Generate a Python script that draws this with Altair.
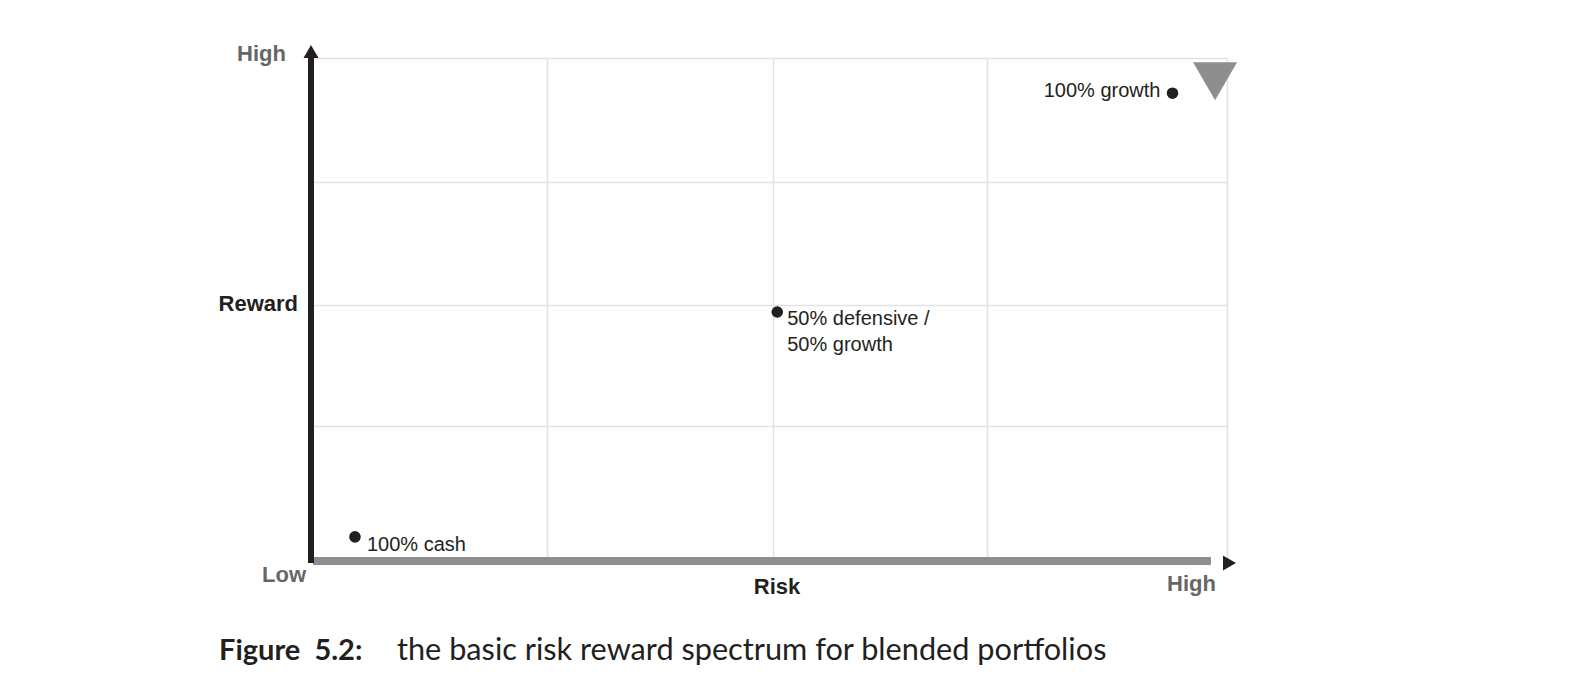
import altair as alt
import pandas as pd

# ---- data -------------------------------------------------------------
point_names = ["100% cash", "50% defensive / 50% growth", "100% growth"]
risk_values = [4.8, 50.9, 94.05]
reward_values = [4.8, 49.5, 93.0]

x_grid = [25.8, 50.4, 73.8, 100]
y_grid = [26.8, 50.9, 75.3, 100]

# decorative axis geometry (data units)
y_axis_x, y_axis_y0, y_axis_y1 = [0.0], [-0.4], [100.0]
x_axis_x0, x_axis_x1, x_axis_y = [0.22], [98.25], [0.0]
up_arrow_x, up_arrow_y = [0.0], [101.3]
right_arrow_x, right_arrow_y = [100.27], [-0.4]
marker_x, marker_y = [98.7], [95.4]

BLACK = "#231f20"
GREY = "#8e8e91"
LABEL_GREY = "#666666"

pts = pd.DataFrame({"risk": risk_values, "reward": reward_values, "name": point_names})

xs = alt.Scale(domain=[0, 100], nice=False, zero=False)
ys = alt.Scale(domain=[0, 100], nice=False, zero=False)

base = alt.Chart(pts)

X = alt.X("risk:Q", scale=xs, axis=alt.Axis(values=x_grid, grid=True, domain=False, ticks=False,
                                              labels=False, title=None, gridColor="#e2e2e2", gridWidth=1.5))
Y = alt.Y("reward:Q", scale=ys, axis=alt.Axis(values=y_grid, grid=True, domain=False, ticks=False,
                                               labels=False, title=None, gridColor="#e2e2e2", gridWidth=1.5))

grid = base.mark_point(opacity=0).encode(x=X, y=Y)

yline = alt.Chart(pd.DataFrame({"x": y_axis_x, "y": y_axis_y0, "y2": y_axis_y1})).mark_rule(
    color=BLACK, strokeWidth=6, strokeCap="butt").encode(
    x=alt.X("x:Q", scale=xs), y=alt.Y("y:Q", scale=ys), y2="y2:Q")

xline = alt.Chart(pd.DataFrame({"x": x_axis_x0, "x2": x_axis_x1, "y": x_axis_y})).mark_rule(
    color=GREY, strokeWidth=8, strokeCap="butt").encode(
    x=alt.X("x:Q", scale=xs), x2="x2:Q", y=alt.Y("y:Q", scale=ys))

up_arrow = alt.Chart(pd.DataFrame({"x": up_arrow_x, "y": up_arrow_y})).mark_point(
    shape="M-1,0.867L1,0.867L0,-0.867Z", size=225, filled=True, color=BLACK, opacity=1, strokeWidth=0).encode(
    x=alt.X("x:Q", scale=xs), y=alt.Y("y:Q", scale=ys))

right_arrow = alt.Chart(pd.DataFrame({"x": right_arrow_x, "y": right_arrow_y})).mark_point(
    shape="M-0.867,-1L0.867,0L-0.867,1Z", size=225, filled=True, color=BLACK, opacity=1, strokeWidth=0).encode(
    x=alt.X("x:Q", scale=xs), y=alt.Y("y:Q", scale=ys))

marker = alt.Chart(pd.DataFrame({"x": marker_x, "y": marker_y})).mark_point(
    shape="M-1,-0.864L1,-0.864L0,0.864Z", size=1936, filled=True, color=GREY, opacity=1, strokeWidth=0).encode(
    x=alt.X("x:Q", scale=xs), y=alt.Y("y:Q", scale=ys))

dots = base.mark_circle(size=135, color=BLACK, opacity=1).encode(
    x=alt.X("risk:Q", scale=xs), y=alt.Y("reward:Q", scale=ys))

lbl_font = dict(font="Liberation Sans", fontSize=20, color=BLACK, baseline="alphabetic")

cash_lbl = base.transform_filter(alt.datum.name == point_names[0]).mark_text(
    align="left", dx=12, dy=14, **lbl_font).encode(
    x=alt.X("risk:Q", scale=xs), y=alt.Y("reward:Q", scale=ys), text=alt.value("100% cash"))

mid_lbl = base.transform_filter(alt.datum.name == point_names[1]).mark_text(
    align="left", dx=10, dy=13, lineBreak="\n", lineHeight=26, **lbl_font).encode(
    x=alt.X("risk:Q", scale=xs), y=alt.Y("reward:Q", scale=ys), text=alt.value("50% defensive /\n50% growth"))

growth_lbl = base.transform_filter(alt.datum.name == point_names[2]).mark_text(
    align="right", dx=-12, dy=4, **lbl_font).encode(
    x=alt.X("risk:Q", scale=xs), y=alt.Y("reward:Q", scale=ys), text=alt.value("100% growth"))

# axis end labels
axis_text = ["High", "Reward", "Low", "Risk", "High"]
axis_tx = [0, 0, 0, 50, 100]
axis_ty = [100, 50, 0, 0, 0]
axis_specs = [
    dict(align="right", dx=-25, dy=3, color=LABEL_GREY),
    dict(align="right", dx=-13, dy=1, color=BLACK),
    dict(align="right", dx=-5, dy=21, color=LABEL_GREY),
    dict(align="center", dx=8, dy=33, color=BLACK),
    dict(align="right", dx=-11, dy=30, color=LABEL_GREY),
]
axis_layers = []
for t, ax, ay, spec in zip(axis_text, axis_tx, axis_ty, axis_specs):
    axis_layers.append(
        alt.Chart(pd.DataFrame({"x": [ax], "y": [ay], "t": [t]})).mark_text(
            font="Liberation Sans", fontSize=22, fontWeight="bold", baseline="alphabetic", **spec).encode(
            x=alt.X("x:Q", scale=xs), y=alt.Y("y:Q", scale=ys), text="t:N"))

caption_bold = ["Figure\u00a0 5.2:"]
caption_text = ["the basic risk reward spectrum for blended portfolios"]
cap1 = alt.Chart(pd.DataFrame({"t": caption_bold})).mark_text(
    font="Lato", fontSize=29, fontWeight="bold", align="left", baseline="alphabetic", color=BLACK).encode(
    x=alt.value(-92), y=alt.value(602), text="t:N")
cap2 = alt.Chart(pd.DataFrame({"t": caption_text})).mark_text(
    font="Lato", fontSize=30.7, align="left", baseline="alphabetic", color=BLACK).encode(
    x=alt.value(86), y=alt.value(602), text="t:N")

chart = alt.layer(grid, xline, yline, up_arrow, right_arrow, marker, dots, cash_lbl, mid_lbl, growth_lbl,
                  *axis_layers, cap1, cap2).properties(
    width=916, height=503,
    autosize=alt.AutoSizeParams(type="none"),
    padding={"left": 303, "top": 50, "right": 20, "bottom": 110},
).configure_view(stroke=None)

chart.save("out.html", embed_options={"renderer": "svg", "actions": False})
